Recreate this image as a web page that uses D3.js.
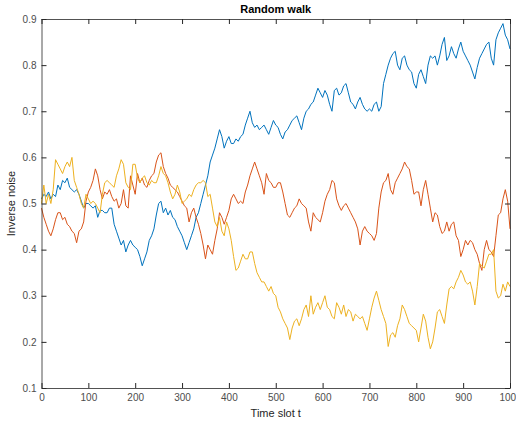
<!DOCTYPE html>
<html>
<head>
<meta charset="utf-8">
<script src="https://cdn.jsdelivr.net/npm/d3@7"></script>
<style>
  body { margin: 0; background: #fff; }
  #chart { width: 516px; height: 425px; }
  .tick text { font-family: "Liberation Sans", Arial, sans-serif; font-size: 10px; fill: #4d4d4d; }
  .tick line, .domain { stroke: #262626; }
</style>
</head>
<body>
<div id="chart"></div>
<script>
const step = 5;
const blueWalk = [
  0.510,0.520,0.515,0.525,0.510,0.520,0.515,0.540,0.530,0.550,0.545,0.555,0.535,0.530,0.525,0.530,0.520,0.505,0.490,0.500,
  0.500,0.495,0.490,0.495,0.470,0.485,0.485,0.480,0.480,0.490,0.490,0.455,0.440,0.425,0.410,0.420,0.395,0.410,0.420,0.410,
  0.405,0.400,0.385,0.365,0.380,0.395,0.420,0.430,0.445,0.475,0.500,0.505,0.480,0.490,0.475,0.485,0.470,0.465,0.450,0.440,
  0.430,0.415,0.400,0.415,0.430,0.445,0.470,0.480,0.500,0.520,0.540,0.560,0.590,0.605,0.620,0.640,0.660,0.645,0.620,0.635,
  0.645,0.630,0.630,0.640,0.635,0.645,0.650,0.670,0.685,0.700,0.675,0.665,0.670,0.660,0.665,0.670,0.660,0.650,0.665,0.680,
  0.670,0.665,0.650,0.640,0.655,0.660,0.670,0.680,0.685,0.690,0.675,0.660,0.685,0.700,0.705,0.715,0.720,0.735,0.750,0.740,
  0.730,0.745,0.735,0.715,0.700,0.745,0.750,0.735,0.740,0.755,0.760,0.740,0.720,0.715,0.705,0.720,0.730,0.715,0.705,0.700,
  0.705,0.700,0.715,0.720,0.700,0.710,0.760,0.780,0.800,0.815,0.825,0.830,0.800,0.790,0.815,0.820,0.800,0.790,0.785,0.760,
  0.750,0.780,0.790,0.775,0.760,0.800,0.820,0.815,0.820,0.800,0.820,0.845,0.860,0.810,0.820,0.840,0.825,0.815,0.835,0.850,
  0.830,0.820,0.810,0.800,0.785,0.770,0.795,0.815,0.825,0.835,0.845,0.850,0.815,0.800,0.855,0.870,0.880,0.890,0.865,0.855,
  0.835
];
const redWalk = [
  0.490,0.470,0.455,0.440,0.430,0.445,0.465,0.480,0.480,0.465,0.470,0.455,0.450,0.440,0.435,0.415,0.440,0.445,0.460,0.505,
  0.525,0.535,0.550,0.575,0.560,0.530,0.510,0.525,0.520,0.530,0.515,0.505,0.510,0.490,0.500,0.530,0.495,0.490,0.560,0.540,
  0.520,0.565,0.545,0.555,0.540,0.535,0.550,0.560,0.565,0.590,0.605,0.610,0.580,0.565,0.555,0.540,0.535,0.530,0.525,0.515,
  0.505,0.495,0.490,0.460,0.480,0.490,0.470,0.455,0.435,0.410,0.380,0.410,0.400,0.390,0.420,0.445,0.480,0.470,0.455,0.470,
  0.485,0.510,0.520,0.510,0.500,0.505,0.500,0.525,0.540,0.560,0.575,0.590,0.575,0.560,0.545,0.520,0.565,0.550,0.545,0.535,
  0.535,0.545,0.545,0.525,0.500,0.475,0.470,0.480,0.490,0.495,0.510,0.500,0.495,0.490,0.460,0.440,0.480,0.470,0.465,0.460,
  0.480,0.505,0.520,0.530,0.550,0.545,0.510,0.495,0.485,0.495,0.500,0.490,0.480,0.470,0.460,0.445,0.410,0.440,0.450,0.440,
  0.435,0.430,0.420,0.435,0.490,0.525,0.545,0.550,0.565,0.530,0.520,0.545,0.555,0.565,0.575,0.590,0.580,0.575,0.550,0.520,
  0.525,0.525,0.495,0.530,0.550,0.520,0.490,0.460,0.480,0.475,0.450,0.435,0.440,0.460,0.440,0.455,0.460,0.430,0.420,0.385,
  0.400,0.420,0.410,0.420,0.415,0.400,0.390,0.370,0.355,0.400,0.420,0.400,0.395,0.385,0.430,0.475,0.480,0.510,0.530,0.505,
  0.445
];
const yellowWalk = [
  0.500,0.540,0.500,0.520,0.500,0.530,0.595,0.585,0.575,0.565,0.580,0.590,0.580,0.600,0.550,0.535,0.520,0.500,0.490,0.520,
  0.510,0.500,0.505,0.500,0.490,0.480,0.520,0.545,0.550,0.545,0.540,0.535,0.560,0.575,0.595,0.585,0.545,0.535,0.530,0.585,
  0.585,0.555,0.545,0.555,0.560,0.545,0.540,0.550,0.545,0.545,0.560,0.580,0.565,0.560,0.545,0.525,0.510,0.520,0.540,0.525,
  0.500,0.505,0.510,0.520,0.515,0.530,0.540,0.545,0.545,0.550,0.545,0.515,0.520,0.490,0.460,0.450,0.470,0.440,0.430,0.460,
  0.445,0.420,0.385,0.355,0.360,0.375,0.390,0.380,0.380,0.395,0.395,0.370,0.350,0.340,0.330,0.330,0.320,0.310,0.320,0.305,
  0.300,0.275,0.265,0.250,0.240,0.230,0.205,0.230,0.245,0.250,0.235,0.250,0.270,0.280,0.255,0.300,0.260,0.275,0.285,0.270,
  0.285,0.300,0.275,0.270,0.255,0.250,0.285,0.275,0.260,0.280,0.255,0.270,0.265,0.245,0.260,0.255,0.250,0.255,0.240,0.225,
  0.250,0.275,0.295,0.310,0.290,0.270,0.255,0.240,0.190,0.215,0.220,0.210,0.235,0.250,0.280,0.270,0.255,0.240,0.235,0.230,
  0.225,0.200,0.230,0.260,0.245,0.210,0.185,0.200,0.230,0.265,0.270,0.255,0.240,0.280,0.315,0.320,0.315,0.330,0.340,0.355,
  0.345,0.330,0.325,0.330,0.310,0.280,0.320,0.370,0.365,0.360,0.375,0.390,0.390,0.400,0.310,0.295,0.300,0.325,0.310,0.330,
  0.320
];
const seriesColors = ["#0072BD", "#D95319", "#EDB120"];
const xTicks = [0, 100, 200, 300, 400, 500, 600, 700, 800, 900, 1000];
const yTicks = [0.1, 0.2, 0.3, 0.4, 0.5, 0.6, 0.7, 0.8, 0.9];

const container = document.getElementById("chart");
const margin = {top: 19, right: 6, bottom: 37, left: 41.5};
const width = 516 - margin.left - margin.right;
const height = 425 - margin.top - margin.bottom;

const svg = d3.select(container)
  .append("svg")
  .attr("width", 516)
  .attr("height", 425)
  .append("g")
  .attr("transform", `translate(${margin.left},${margin.top})`);

const x = d3.scaleLinear().domain([0, 1000]).range([0, width]);
const y = d3.scaleLinear().domain([0.1, 0.9]).range([height, 0]);

const line = d3.line()
  .x((d, i) => x(i * step))
  .y(d => y(d));

[blueWalk, redWalk, yellowWalk].forEach((walk, k) => {
  svg.append("path")
    .datum(walk)
    .attr("fill", "none")
    .attr("stroke", seriesColors[k])
    .attr("stroke-width", 1)
    .attr("stroke-linejoin", "round")
    .attr("d", line);
});

// box with inward ticks, matlab style
svg.append("g")
  .attr("transform", `translate(0,${height})`)
  .call(d3.axisBottom(x).tickValues(xTicks).tickSizeInner(-5).tickSizeOuter(0).tickPadding(6).tickFormat(d3.format("d")));
svg.append("g")
  .call(d3.axisTop(x).tickValues(xTicks).tickSizeInner(-5).tickSizeOuter(0).tickFormat(""));
svg.append("g")
  .call(d3.axisLeft(y).tickValues(yTicks).tickSizeInner(-5).tickSizeOuter(0).tickPadding(5).tickFormat(d3.format(".1f")));
svg.append("g")
  .attr("transform", `translate(${width},0)`)
  .call(d3.axisRight(y).tickValues(yTicks).tickSizeInner(-5).tickSizeOuter(0).tickFormat(""));

svg.selectAll(".domain").attr("stroke-width", 0.8);

svg.append("text")
  .attr("x", width / 2)
  .attr("y", -6)
  .attr("text-anchor", "middle")
  .attr("font-family", "Liberation Sans, Arial, sans-serif")
  .attr("font-size", 11)
  .attr("font-weight", "bold")
  .attr("fill", "#000")
  .text("Random walk");

svg.append("text")
  .attr("x", width / 2)
  .attr("y", height + 29)
  .attr("text-anchor", "middle")
  .attr("font-family", "Liberation Sans, Arial, sans-serif")
  .attr("font-size", 11)
  .attr("fill", "#262626")
  .text("Time slot t");

svg.append("text")
  .attr("transform", `translate(-27,${height / 2}) rotate(-90)`)
  .attr("text-anchor", "middle")
  .attr("font-family", "Liberation Sans, Arial, sans-serif")
  .attr("font-size", 11)
  .attr("fill", "#262626")
  .text("Inverse noise");
</script>
</body>
</html>
